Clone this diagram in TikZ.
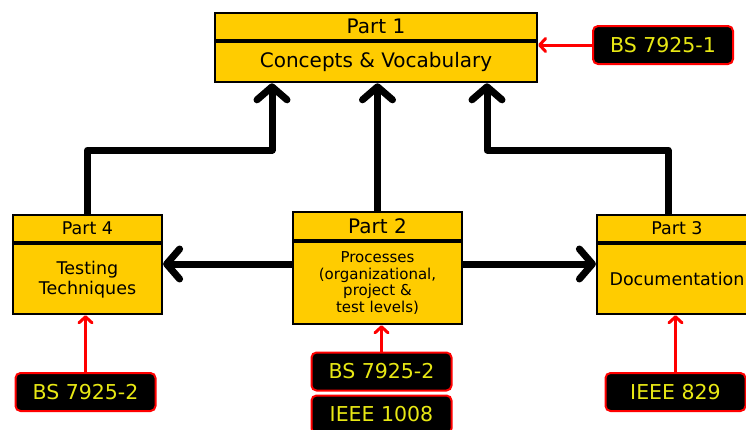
\documentclass[tikz,border=0pt]{standalone}
\usepackage{fontspec}
\setmainfont{DejaVu Sans}
\usetikzlibrary{arrows.meta, positioning, calc}

\definecolor{partyellow}{RGB}{255,204,0}
\definecolor{labelyellow}{RGB}{232,232,20}

\begin{document}
\begin{tikzpicture}[x=1pt, y=-1pt,
    parthead/.style={draw, line width=2.2pt, fill=partyellow, inner sep=0pt, align=center},
    partbody/.style={draw, line width=2.2pt, fill=partyellow, inner sep=0pt, align=center},
    stdlabel/.style={draw=red, line width=2pt, fill=black, text=labelyellow, rounded corners=5pt,
        minimum width=140pt, minimum height=38pt, inner sep=0pt, font=\fontsize{20.5}{24}\selectfont},
    bigarrow/.style={line width=7pt, line join=round, -{Straight Barb[length=13pt,width=30pt,round]}},
    redarrow/.style={red, line width=3pt, -{Straight Barb[length=6pt,width=13pt,round]}}]
    \useasboundingbox (0,0) rectangle (746,429);
    \clip (0,0) rectangle (746,429);

    % Parts
    \node[parthead, minimum width=322pt, minimum height=27pt, font=\fontsize{20}{24}\selectfont] (p1head) at (376,26.5) {Part 1};
    \node[partbody, minimum width=322pt, minimum height=40pt, font=\fontsize{20}{24}\selectfont, below=0pt of p1head] (p1body) {Concepts \& Vocabulary};

    \node[parthead, minimum width=169pt, minimum height=28pt, font=\fontsize{20}{24}\selectfont] (p2head) at (377.5,226) {Part 2};
    \node[partbody, minimum width=169pt, minimum height=82pt, font=\fontsize{15}{16.5}\selectfont, below=0pt of p2head] (p2body) {Processes\\(organizational,\\project \&\\test levels)};

    \node[parthead, minimum width=160pt, minimum height=27pt, font=\fontsize{17.5}{20}\selectfont] (p3head) at (677,228.5) {Part 3};
    \node[partbody, minimum width=160pt, minimum height=70pt, font=\fontsize{17.5}{20}\selectfont, below=0pt of p3head] (p3body) {Documentation};

    \node[parthead, minimum width=149pt, minimum height=27pt, font=\fontsize{17.5}{20}\selectfont] (p4head) at (87.5,228.5) {Part 4};
    \node[partbody, minimum width=149pt, minimum height=70pt, font=\fontsize{17.5}{20}\selectfont, below=0pt of p4head] (p4body) {Testing\\Techniques};

    % Standards
    \node[stdlabel] (bs1) at (663,45) {BS 7925-1};
    \node[stdlabel] (bs2a) at (85.5,392) {BS 7925-2};
    \node[stdlabel] (bs2b) at (381.5,371.5) {BS 7925-2};
    \node[stdlabel, below=3pt of bs2b] (ieee1008) {IEEE 1008};
    \node[stdlabel] (ieee829) at (675.5,392) {IEEE 829};

    % Bends
    \coordinate (j1) at (272,150);
    \coordinate (j3) at (487,150);
    \coordinate (j4) at (668,150);
    \coordinate (hlev) at (0,264);

    \draw[bigarrow] (p4head.north) |- (j1) -- (j1 |- p1body.south);
    \draw[bigarrow] (p2head.north) -- (p2head.north |- p1body.south);
    \draw[bigarrow] (p3head.north -| j4) |- (j3) -- (j3 |- p1body.south);
    \draw[bigarrow] (p2body.west |- hlev) -- (p4body.east |- hlev);
    \draw[bigarrow] (p2body.east |- hlev) -- (p3body.west |- hlev);

    \draw[redarrow] (bs1.west) -- (bs1.west -| p1body.east);
    \draw[redarrow] (bs2a.north) -- (bs2a.north |- p4body.south);
    \draw[redarrow] (bs2b.north) -- (bs2b.north |- p2body.south);
    \draw[redarrow] (ieee829.north) -- (ieee829.north |- p3body.south);
\end{tikzpicture}
\end{document}
